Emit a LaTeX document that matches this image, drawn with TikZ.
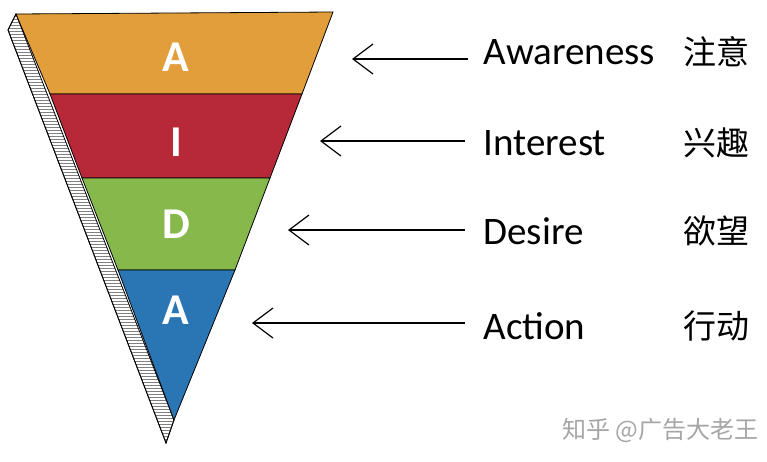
\documentclass[tikz,border=0pt]{standalone}
\usepackage{fontspec}
\setmainfont{Carlito}
\newfontfamily\cjk{Noto Sans CJK SC}
\usetikzlibrary{patterns,arrows.meta}
\definecolor{cA}{HTML}{E19E3A}
\definecolor{cI}{HTML}{B72839}
\definecolor{cD}{HTML}{86B84C}
\definecolor{cB}{HTML}{2A76B4}
\begin{document}
\begin{tikzpicture}[x=1pt,y=-1pt,
  band/.style={draw=black,line width=0.8pt},
  letter/.style={text=white,font=\fontsize{44}{44}\selectfont\bfseries},
  lbl/.style={anchor=west,font=\fontsize{39}{39}\selectfont},
  zh/.style={anchor=west,font=\cjk\fontsize{33}{33}\selectfont},
  arr/.style={-{Straight Barb[length=20pt,width=30pt,line width=1.2pt]},line width=1.4pt}]
\useasboundingbox (0,0) rectangle (767,461);
\fill[white] (0,0) rectangle (767,461);
\filldraw[fill=gray!35,draw=black,line width=0.8pt,pattern=horizontal lines,pattern color=gray] (16,14) -- (8,30) -- (166,443) -- (174,420) -- cycle;
\draw[line width=0.8pt] (16,14) -- (8,30) -- (166,443) -- (174,420);
\filldraw[band,fill=cA] (16,14) -- (333,12) -- (302,94) -- (50,94) -- cycle;
\filldraw[band,fill=cI] (50,94) -- (302,94) -- (270,178) -- (82,178) -- cycle;
\filldraw[band,fill=cD] (82,178) -- (270,178) -- (235,270) -- (118,270) -- cycle;
\filldraw[band,fill=cB] (118,270) -- (235,270) -- (174,420) -- cycle;
\node[letter] (lA) at (176,57) {A};
\node[letter] (lI) at (176,142) {I};
\node[letter] (lD) at (176,224) {D};
\node[letter] (lA2) at (176,310) {A};
\node[lbl] (t1) at (480,52) {Awareness};
\node[lbl] (t2) at (480,143) {Interest};
\node[lbl] (t3) at (480,231) {Desire};
\node[lbl] (t4) at (480,326) {Action};
\node[zh] (z1) at (680,52) {注意};
\node[zh] (z2) at (680,143) {兴趣};
\node[zh] (z3) at (680,231) {欲望};
\node[zh] (z4) at (680,326) {行动};
\coordinate (e1) at (352,59); \coordinate (e2) at (320,141);
\coordinate (e3) at (288,230); \coordinate (e4) at (252,323);
\draw[arr] (468,59) -- (e1);
\draw[arr] (465,141) -- (e2);
\draw[arr] (465,230) -- (e3);
\draw[arr] (465,323) -- (e4);
\node[anchor=east,text=gray!70,font=\cjk\fontsize{24}{24}\selectfont] (wm) at (762,430) {知乎 @广告大老王};
\end{tikzpicture}
\end{document}
